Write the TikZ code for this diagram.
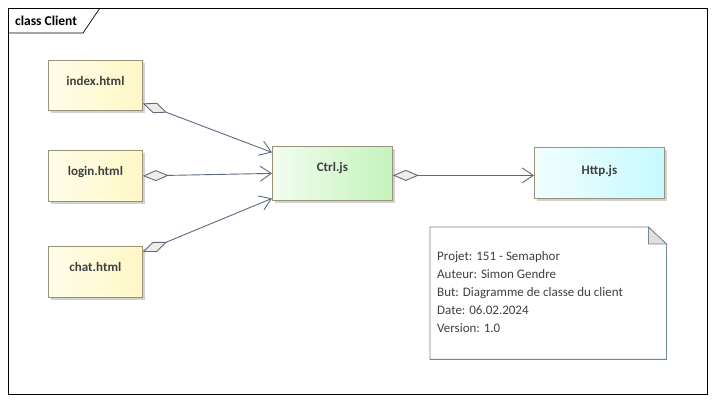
\documentclass[tikz,border=0pt]{standalone}
\usepackage{fontspec}
\setmainfont{Carlito}
\usepackage{xcolor}
\usetikzlibrary{arrows.meta, shadows, positioning}

\definecolor{linecol}{HTML}{5F6A80}
\definecolor{txtcol}{HTML}{404040}
\definecolor{boxline}{HTML}{9A917A}
\definecolor{notecol}{HTML}{6F8A9A}
\definecolor{diacol}{HTML}{F2ECE8}
\definecolor{yelA}{HTML}{FFFDEA}
\definecolor{yelB}{HTML}{FFF7C6}
\definecolor{grnA}{HTML}{F2FDF0}
\definecolor{grnB}{HTML}{C4F4BC}
\definecolor{cynA}{HTML}{F2FEFF}
\definecolor{cynB}{HTML}{C6FAFF}

\tikzset{
  cls/.style={draw=boxline, line width=0.8pt, anchor=north west, inner sep=0pt,
    minimum width=94pt, text=txtcol, font=\bfseries\fontsize{13}{15}\selectfont,
    drop shadow={shadow xshift=3pt, shadow yshift=-3pt, fill=black!18, opacity=1}},
  page/.style={cls, left color=yelA, right color=yelB, text height=25pt, text depth=25pt},
  aggr/.style={draw=linecol, line width=0.9pt,
    {Diamond[length=26pt, width=11pt, fill=diacol]}-{Straight Barb[length=11pt, width=15pt]}}
}

\begin{document}
\begin{tikzpicture}[x=1pt, y=-1pt]
  \useasboundingbox (0,0) rectangle (715,403);

  % frame
  \draw[line width=0.7pt] (8,8) rectangle (707,394);
  \draw[line width=0.7pt] (8,33) -- (83,33) -- (100,8);
  \node[anchor=west, inner sep=0pt, font=\bfseries\fontsize{13.5}{15}\selectfont] (title) at (15,20.5) {class Client};

  % classes
  \node[page] (index) at (48,60) {index.html};
  \node[page, text depth=26pt] (login) at (48,150) {login.html};
  \node[page, text depth=26pt] (chat) at (48,246) {chat.html};
  \node[cls, minimum width=120pt, left color=grnA, right color=grnB,
        text height=25pt, text depth=29pt] (ctrl) at (272,146) {Ctrl.js};
  \node[cls, minimum width=130pt, left color=cynA, right color=cynB,
        text height=27pt, text depth=24pt] (http) at (534,147) {Http.js};

  % note
  \node[anchor=north west, minimum width=236pt, minimum height=132pt, inner sep=0pt] (note) at (430,227) {};
  \draw[notecol, line width=0.8pt, fill=white]
    (note.north west) -- ([xshift=-18pt]note.north east) -- ([yshift=-17pt]note.north east)
    -- (note.south east) -- (note.south west) -- cycle;
  \draw[notecol, line width=0.8pt, fill=gray!25]
    ([xshift=-18pt]note.north east) -- ([xshift=-18pt,yshift=-17pt]note.north east)
    -- ([yshift=-17pt]note.north east) -- cycle;
  \node[anchor=north west, inner sep=0pt, align=left, text=txtcol,
        font=\fontsize{13}{18}\selectfont] (info) at ([xshift=7pt,yshift=-24pt]note.north west)
    {Projet: 151 - Semaphor\\Auteur: Simon Gendre\\But: Diagramme de classe du client\\Date: 06.02.2024\\Version: 1.0};

  % associations
  \path ([yshift=-18pt]index.east) edge[aggr] ([yshift=21pt]ctrl.west)
        (login.east) edge[aggr] (ctrl.west)
        ([yshift=20pt]chat.east) edge[aggr] ([yshift=-25pt]ctrl.west)
        ([yshift=-2pt]ctrl.east) edge[aggr] ([yshift=-2.5pt]http.west);
\end{tikzpicture}
\end{document}
